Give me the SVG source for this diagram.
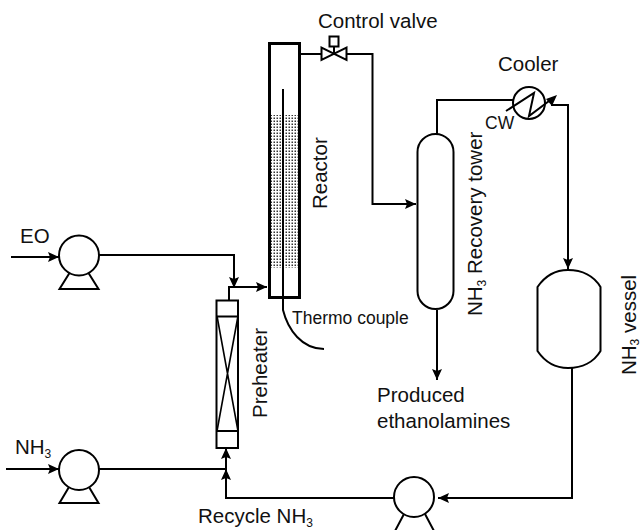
<svg xmlns="http://www.w3.org/2000/svg" width="641" height="530" viewBox="0 0 641 530">
<style>
.l{fill:none;stroke:#000;stroke-width:2}
.b{fill:none;stroke:#000;stroke-width:3}
.s{fill:#fff;stroke:#000;stroke-width:2}
text{font-family:"Liberation Sans",Arial,sans-serif;font-size:20.500px;fill:#111}
.m{font-size:17.500px}
.sub{font-size:12px}
</style>
<defs>
<marker id="a" markerUnits="userSpaceOnUse" markerWidth="12" markerHeight="12" refX="11" refY="6" orient="auto"><path d="M0 1L11 6L0 11L2 6Z" fill="#000"/></marker>
<pattern id="d" width="3" height="3" patternUnits="userSpaceOnUse"><rect width="3" height="3" fill="#fff"/><rect x="0.500" y="0.500" width="1.500" height="1.500" fill="#333"/></pattern>
</defs>
<g id="connectors">
<path class="l" d="M11 257H59" marker-end="url(#a)"/>
<path class="l" d="M6 469H59" marker-end="url(#a)"/>
<path class="l" d="M99 255H234V288" marker-end="url(#a)"/>
<path class="l" d="M229 300V287H267" marker-end="url(#a)"/>
<path class="l" d="M99 469H226"/>
<path class="l" d="M394 498H226V469" marker-end="url(#a)"/>
<path class="l" d="M226 469V448" marker-end="url(#a)"/>
<path class="l" d="M300 54H321"/>
<path class="l" d="M346 54H372.500V204H416" marker-end="url(#a)"/>
<path class="l" d="M437 134V100H514"/>
<path class="l" d="M551 105H568V269" marker-end="url(#a)"/>
<path class="l" d="M437 310V380" marker-end="url(#a)"/>
<path class="l" d="M572 368V498H438" marker-end="url(#a)"/>
</g>
<g id="reactor">
<rect x="270" y="115" width="28" height="153" fill="url(#d)"/>
<rect x="281" y="115" width="4" height="153" fill="#fff"/>
<rect x="269.500" y="43.500" width="30" height="254" class="b"/>
<path class="l" d="M283 89V310C288 330 302 349 324 349"/>
<text transform="translate(327 209) rotate(-90)">Reactor</text>
</g>
<g id="thermo-couple"><text x="292" y="324" class="m">Thermo couple</text></g>
<g id="control-valve">
<rect x="329.500" y="36.500" width="9" height="10" class="l"/>
<path class="l" d="M321.500 47.500V60L346.500 47.500V60Z"/>
<path class="l" d="M334 47V54"/>
<text x="318" y="28">Control valve</text>
</g>
<g id="tower">
<rect x="417.500" y="134" width="36" height="175" rx="18" ry="18" class="s"/>
<text transform="translate(482 316) rotate(-90)">NH<tspan class="sub" dy="4">3</tspan><tspan dy="-4"> Recovery tower</tspan></text>
</g>
<g id="cooler">
<circle cx="529" cy="103" r="16" class="s"/>
<path class="l" d="M506 111L534 93L529 116L553 98"/>
<path d="M557 95L546 99L552 106Z" fill="#000"/>
<text x="498" y="71">Cooler</text>
<text x="485" y="129" class="m">CW</text>
</g>
<g id="vessel">
<path class="s" d="M537.500 287C545 276 555 270 568 270C582 270 594 276 600.500 287V351C594 362 582 368 568 368C555 368 545 362 537.500 351Z"/>
<text transform="translate(636 375) rotate(-90)">NH<tspan class="sub" dy="3">3</tspan><tspan dy="-3"> vessel</tspan></text>
</g>
<g id="preheater">
<rect x="216.500" y="300.500" width="21.500" height="147.500" class="l" style="fill:#fff"/>
<path class="l" d="M216.500 316.500H238M216.500 431H238"/>
<path class="l" d="M217 316L238 431M238 316L217 431" style="stroke-width:1.600"/>
<text transform="translate(267 418) rotate(-90)">Preheater</text>
</g>
<g id="pump-eo"><path class="s" d="M69.500 273L59.500 289H98.500L88.500 273"/><circle cx="79" cy="255.500" r="20" class="s"/><text x="20" y="243">EO</text></g>
<g id="pump-nh3"><path class="s" d="M69 487L59.500 503H98.500L89 487"/><circle cx="79" cy="470" r="20" class="s"/><text x="15" y="454">NH<tspan class="sub" dy="4">3</tspan></text></g>
<g id="pump-recycle"><path class="s" d="M404 514L395 531H434L425 514"/><circle cx="414" cy="497" r="20" class="s"/></g>
<g id="labels">
<text x="377" y="402">Produced</text>
<text x="377" y="428">ethanolamines</text>
<text x="198" y="523">Recycle NH<tspan class="sub" dy="4">3</tspan></text>
</g>
</svg>
